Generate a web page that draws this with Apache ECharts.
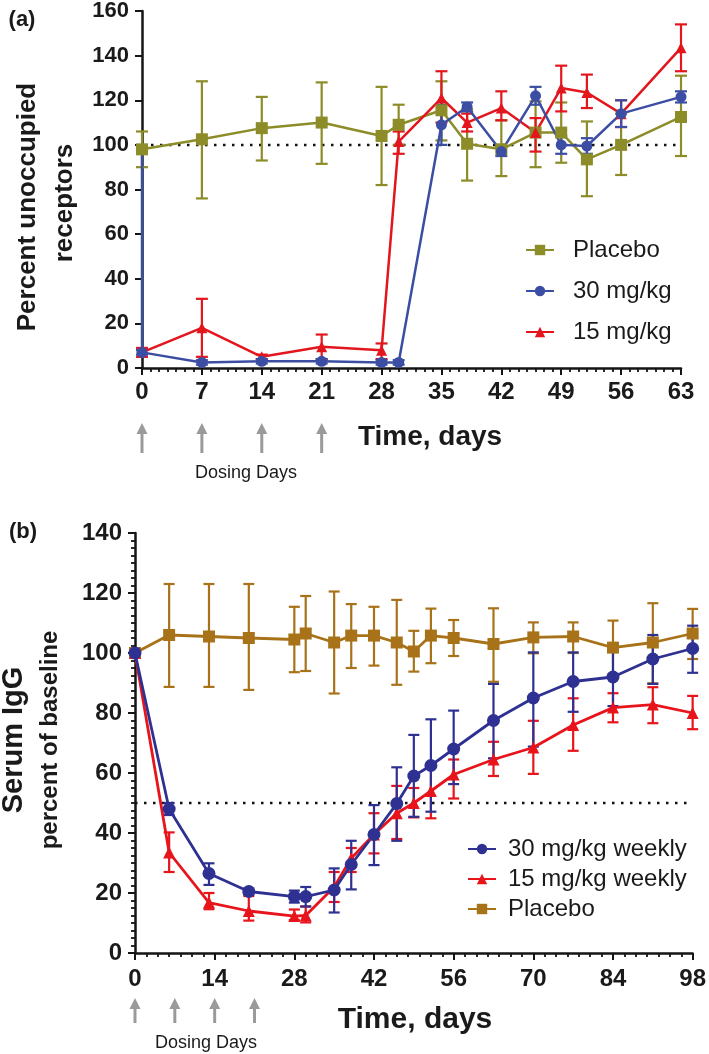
<!DOCTYPE html>
<html>
<head>
<meta charset="utf-8">
<script src="https://cdn.jsdelivr.net/npm/echarts@6/dist/echarts.min.js"></script>
<style>
  html, body { margin: 0; padding: 0; background: #fff; }
  #chart { width: 709px; height: 1054px; }
</style>
</head>
<body>
<div id="chart"></div>
<script>
  const FONT = '"Liberation Sans", Arial, Helvetica, sans-serif'

  // ---- panel (a): percent unoccupied receptors ----
  const aPlaceboDays = [0, 7, 14, 21, 28, 30, 35, 38, 42, 46, 49, 52, 56, 63]
  const aPlaceboMean = [98, 102.5, 107.5, 110, 104, 109, 115.5, 100.5, 98, 105.5, 105.5, 93.5, 100, 112.5]
  const aPlaceboLow = [90, 76, 93, 91.5, 82, 100, 102, 84, 86, 90, 92, 77, 86.5, 95]
  const aPlaceboHigh = [106, 128.5, 121.5, 128, 126, 118, 128.5, 116, 111, 119.5, 119, 110.5, 114, 131]

  const aHighDays = [0, 0, 7, 14, 21, 28, 30, 35, 38, 42, 46, 49, 52, 56, 63]
  const aHighMean = [100, 7, 2.5, 3, 3, 2.5, 2.5, 109, 117, 97, 122, 100, 99.5, 114, 121.5]
  const aHighLow = [100, 6, 1.5, 2, 2, 1.5, 1.5, 100, 115, 95, 118, 96, 96, 108, 119]
  const aHighHigh = [100, 8, 3.5, 4, 4, 3.5, 3.5, 118, 119, 99, 126, 104, 103, 120, 124]

  const aLowDays = [0, 7, 14, 21, 28, 30, 35, 38, 42, 46, 49, 52, 56, 63]
  const aLowMean = [7, 18, 5, 9.5, 8, 101.5, 121, 110, 116.5, 105.5, 125.5, 123.5, 114, 143.5]
  const aLowLow = [5, 5, 4, 4, 4, 96, 110, 106, 111, 97, 115, 116.5, 108, 133]
  const aLowHigh = [9, 31, 6, 15, 11, 106, 133, 114, 124, 112, 135.5, 131.5, 120, 154]

  const aRefDays = [0, 63]
  const aRefLevel = 100

  // ---- panel (b): serum IgG, percent of baseline ----
  const bDays = [0, 6, 13, 20, 28, 30, 35, 38, 42, 46, 49, 52, 56, 63, 70, 77, 84, 91, 98]
  const bPlaceboMean = [100, 106, 105.5, 105, 104.5, 106.5, 103.5, 105.8, 105.8, 103.5, 100.5, 105.8, 105, 103, 105.2, 105.5, 101.8, 103.5, 106.5]
  const bPlaceboLow = [100, 88.7, 88.7, 87.7, 93.6, 94, 86.5, 95, 95.8, 89.4, 93.8, 96.6, 99, 90.4, 99.9, 100, 93, 89.9, 98]
  const bPlaceboHigh = [100, 123, 123, 123, 115.4, 119, 120.5, 116.3, 115.4, 117.7, 107.4, 114.8, 111, 114.9, 110.2, 110.2, 110.8, 116.6, 114.7]

  const bHighMean = [100, 48, 26.5, 20.5, 18.8, 18.8, 21, 29.5, 39.5, 49.8, 59, 62.5, 68, 77.5, 85, 90.5, 92, 98, 101.5]
  const bHighLow = [100, 46, 22.7, 19.5, 16.8, 15.5, 13.5, 21.2, 29.3, 37.4, 45.4, 47.1, 56.3, 64.9, 68.8, 80.4, 82.3, 89.7, 93.4]
  const bHighHigh = [100, 50, 29.9, 21.5, 20.8, 22, 28.2, 37.4, 49.3, 61.9, 72.7, 77.9, 80.8, 89.7, 100.2, 100.2, 101, 106, 109.1]

  const bLowMean = [100, 33.5, 16.8, 14, 12.3, 12.5, 22, 31.6, 39.5, 46.6, 50, 54, 59.5, 64.5, 68.5, 76, 81.8, 82.8, 80]
  const bLowLow = [100, 27, 14.6, 10.8, 11, 10.2, 17, 27, 33.2, 38, 45.2, 44.9, 51.5, 59, 59.7, 67.4, 76.9, 76.6, 74.6]
  const bLowHigh = [100, 40.2, 20, 19, 14.5, 15.5, 27, 35, 46.6, 55.7, 55, 62, 64.5, 70.4, 77.4, 84.9, 86.6, 88.6, 85.7]

  const bRefDays = [0, 98]
  const bRefLevel = 50

  const dosingDays = [0, 7, 14, 21]

  const colA = { placebo: '#8c8c28', high: '#3c4ea4', low: '#e3161e' }
  const colB = { placebo: '#a87219', high: '#2e3192', low: '#e8141b' }

  const pairs = (xs, ys) => xs.map((x, i) => [x, ys[i]])
  const bars = (xs, lo, hi) => xs.map((x, i) => [x, lo[i], hi[i]]).filter(r => r[1] !== r[2])

  function lineSeries (name, idx, xs, ys, color, symbol, size, width) {
    return {
      name: name,
      type: 'line',
      xAxisIndex: idx,
      yAxisIndex: idx,
      data: pairs(xs, ys),
      symbol: symbol,
      symbolSize: size,
      lineStyle: { width: width, color: color },
      itemStyle: { color: color },
      z: 3
    }
  }

  function errSeries (idx, rows, color, cap) {
    return {
      name: 'err-' + idx + color,
      type: 'custom',
      xAxisIndex: idx,
      yAxisIndex: idx,
      data: rows,
      encode: { x: 0, y: [1, 2] },
      z: 2,
      silent: true,
      renderItem: function (params, api) {
        const x = api.value(0)
        const top = api.coord([x, api.value(2)])
        const bot = api.coord([x, api.value(1)])
        const st = { stroke: color, lineWidth: 2.2 }
        return {
          type: 'group',
          children: [
            { type: 'line', shape: { x1: top[0], y1: top[1], x2: bot[0], y2: bot[1] }, style: st },
            { type: 'line', shape: { x1: top[0] - cap, y1: top[1], x2: top[0] + cap, y2: top[1] }, style: st },
            { type: 'line', shape: { x1: bot[0] - cap, y1: bot[1], x2: bot[0] + cap, y2: bot[1] }, style: st }
          ]
        }
      }
    }
  }

  function refSeries (idx, xs, level) {
    return {
      name: 'ref-' + idx,
      type: 'line',
      xAxisIndex: idx,
      yAxisIndex: idx,
      data: xs.map(x => [x, level]),
      symbol: 'none',
      silent: true,
      z: 1,
      lineStyle: { color: '#111', width: 2.5, type: [2.5, 6.5] }
    }
  }

  function axisCommon (fontSize, minorSplit) {
    return {
      axisLine: { show: true, onZero: false, lineStyle: { color: '#151515', width: 2.5 } },
      axisTick: { show: true, length: 7, lineStyle: { color: '#151515', width: 2 } },
      minorTick: { show: minorSplit > 0, splitNumber: minorSplit || 5, length: 4, lineStyle: { color: '#151515', width: 1.8 } },
      splitLine: { show: false },
      axisLabel: { fontFamily: FONT, fontWeight: 'bold', fontSize: fontSize, color: '#1a1a1a' }
    }
  }

  const chart = echarts.init(document.getElementById('chart'))

  const legendText = { fontFamily: FONT, color: '#1a1a1a' }

  chart.setOption({
    animation: false,
    backgroundColor: '#fff',
    textStyle: { fontFamily: FONT },
    grid: [
      { left: 142, top: 10, width: 539, height: 358 },
      { left: 135, top: 533, width: 562, height: 420 }
    ],
    xAxis: [
      Object.assign({ gridIndex: 0, type: 'value', min: 0, max: 63, interval: 7 }, axisCommon(24, 7),
        { axisLabel: { fontFamily: FONT, fontWeight: 'bold', fontSize: 24, color: '#1a1a1a', margin: 12 } }),
      Object.assign({ gridIndex: 1, type: 'value', min: 0, max: 98, interval: 14 }, axisCommon(24, 7),
        { axisLabel: { fontFamily: FONT, fontWeight: 'bold', fontSize: 24, color: '#1a1a1a', margin: 14 } })
    ],
    yAxis: [
      Object.assign({ gridIndex: 0, type: 'value', min: 0, max: 160, interval: 20 }, axisCommon(22, 0),
        { axisLabel: { fontFamily: FONT, fontWeight: 'bold', fontSize: 22, color: '#1a1a1a', margin: 13 } }),
      Object.assign({ gridIndex: 1, type: 'value', min: 0, max: 140, interval: 20 }, axisCommon(24, 8),
        { axisLabel: { fontFamily: FONT, fontWeight: 'bold', fontSize: 24, color: '#1a1a1a', margin: 13 } })
    ],
    legend: [
      {
        orient: 'vertical',
        left: 520,
        top: 231,
        itemWidth: 28,
        itemHeight: 13,
        itemGap: 13,
        selectedMode: false,
        data: ['Placebo', '30 mg/kg', '15 mg/kg'],
        textStyle: Object.assign({ fontSize: 24, lineHeight: 28, padding: [0, 0, 0, 14] }, legendText)
      },
      {
        orient: 'vertical',
        left: 462,
        top: 831,
        itemWidth: 28,
        itemHeight: 13,
        itemGap: 4,
        selectedMode: false,
        data: ['30 mg/kg weekly', '15 mg/kg weekly', 'Placebo '],
        textStyle: Object.assign({ fontSize: 24, lineHeight: 26, padding: [0, 0, 0, 7] }, legendText)
      }
    ],
    series: [
      refSeries(0, aRefDays, aRefLevel),
      errSeries(0, bars(aPlaceboDays, aPlaceboLow, aPlaceboHigh), colA.placebo, 6),
      errSeries(0, bars(aLowDays, aLowLow, aLowHigh), colA.low, 6),
      errSeries(0, bars(aHighDays, aHighLow, aHighHigh), colA.high, 6),
      lineSeries('Placebo', 0, aPlaceboDays, aPlaceboMean, colA.placebo, 'rect', 12, 2.5),
      lineSeries('15 mg/kg', 0, aLowDays, aLowMean, colA.low, 'triangle', 11, 2.5),
      Object.assign(lineSeries('30 mg/kg', 0, aHighDays, aHighMean, colA.high, 'circle', 11, 2.5), {
        data: pairs(aHighDays, aHighMean).map((p, i) => i === 0 ? { value: p, symbol: 'none' } : p)
      }),

      refSeries(1, bRefDays, bRefLevel),
      errSeries(1, bars(bDays, bPlaceboLow, bPlaceboHigh), colB.placebo, 5.5),
      errSeries(1, bars(bDays, bLowLow, bLowHigh), colB.low, 5.5),
      errSeries(1, bars(bDays, bHighLow, bHighHigh), colB.high, 5.5),
      lineSeries('Placebo ', 1, bDays, bPlaceboMean, colB.placebo, 'rect', 12, 2.8),
      lineSeries('15 mg/kg weekly', 1, bDays, bLowMean, colB.low, 'triangle', 12, 2.8),
      lineSeries('30 mg/kg weekly', 1, bDays, bHighMean, colB.high, 'circle', 13, 2.8)
    ]
  })

  // annotation texts and dosing arrows, placed from the axes' own scale
  function arrow (x, y0, y1) {
    return {
      type: 'group',
      children: [
        { type: 'line', shape: { x1: x, y1: y0 + 9, x2: x, y2: y1 }, style: { stroke: '#9a9a9a', lineWidth: 3 } },
        { type: 'polygon', shape: { points: [[x - 5.5, y0 + 11], [x + 5.5, y0 + 11], [x, y0]] }, style: { fill: '#9a9a9a' } }
      ]
    }
  }

  function label (text, x, y, size, weight, rotation) {
    return {
      type: 'text',
      x: x,
      y: y,
      rotation: rotation || 0,
      style: {
        text: text,
        fontFamily: FONT,
        fontSize: size,
        fontWeight: weight,
        fill: '#1a1a1a',
        align: 'center',
        verticalAlign: 'middle'
      }
    }
  }

  const arrowsA = dosingDays.map(d => arrow(chart.convertToPixel({ xAxisIndex: 0 }, d), 423, 453))
  const arrowsB = dosingDays.map(d => arrow(chart.convertToPixel({ xAxisIndex: 1 }, d), 998, 1023))

  chart.setOption({
    graphic: [
      label('(a)', 22, 20, 22, 'bold'),
      label('(b)', 23, 532, 22, 'bold'),
      label('Percent unoccupied', 28, 207, 26, 'bold', Math.PI / 2),
      label('receptors', 65, 203, 26, 'bold', Math.PI / 2),
      label('Serum IgG', 14, 740, 29, 'bold', Math.PI / 2),
      label('percent of baseline', 50, 740, 24, 'bold', Math.PI / 2),
      label('Time, days', 430, 437, 28, 'bold'),
      label('Time, days', 415, 1020, 30, 'bold'),
      label('Dosing Days', 246, 473, 18, 'normal'),
      label('Dosing Days', 206, 1043, 18, 'normal')
    ].concat(arrowsA, arrowsB)
  })

  window.addEventListener('resize', () => chart.resize())
</script>
</body>
</html>
